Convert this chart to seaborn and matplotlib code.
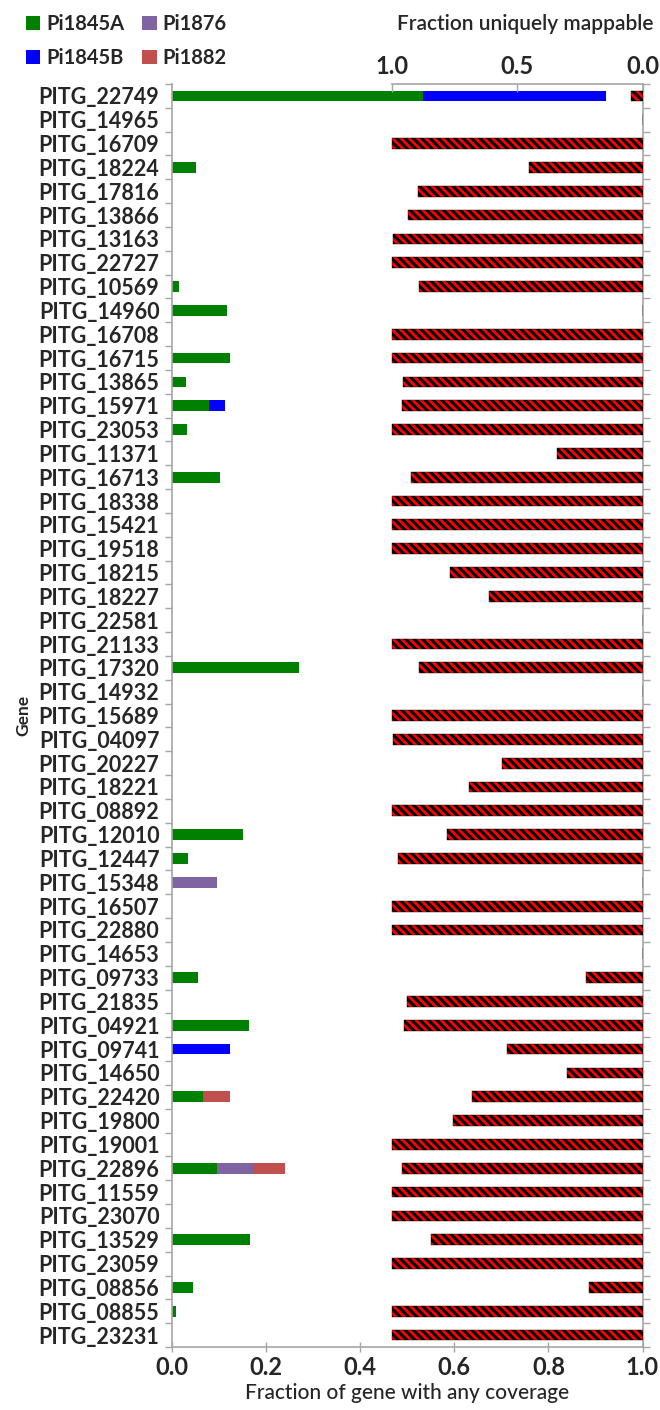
import numpy as np
import pandas as pd
import matplotlib
matplotlib.use("Agg")
import matplotlib.pyplot as plt
from matplotlib.patches import Patch
from matplotlib.ticker import FixedLocator
import seaborn as sns

genes = ["PITG_22749", "PITG_14965", "PITG_16709", "PITG_18224", "PITG_17816", "PITG_13866",
         "PITG_13163", "PITG_22727", "PITG_10569", "PITG_14960", "PITG_16708", "PITG_16715",
         "PITG_13865", "PITG_15971", "PITG_23053", "PITG_11371", "PITG_16713", "PITG_18338",
         "PITG_15421", "PITG_19518", "PITG_18215", "PITG_18227", "PITG_22581", "PITG_21133",
         "PITG_17320", "PITG_14932", "PITG_15689", "PITG_04097", "PITG_20227", "PITG_18221",
         "PITG_08892", "PITG_12010", "PITG_12447", "PITG_15348", "PITG_16507", "PITG_22880",
         "PITG_14653", "PITG_09733", "PITG_21835", "PITG_04921", "PITG_09741", "PITG_14650",
         "PITG_22420", "PITG_19800", "PITG_19001", "PITG_22896", "PITG_11559", "PITG_23070",
         "PITG_13529", "PITG_23059", "PITG_08856", "PITG_08855", "PITG_23231"]

pi1845a = [0.534, 0, 0, 0.052, 0, 0, 0, 0, 0.015, 0.116, 0, 0.124, 0.030, 0.078, 0.032, 0, 0.101, 0,
           0, 0, 0, 0, 0, 0, 0.269, 0, 0, 0, 0, 0, 0, 0.150, 0.035, 0, 0, 0,
           0, 0.056, 0, 0.163, 0, 0, 0.066, 0, 0, 0.096, 0, 0, 0.165, 0, 0.045, 0.008, 0]
pi1845b = [0.388, 0, 0, 0, 0, 0, 0, 0, 0, 0, 0, 0, 0, 0.034, 0, 0, 0, 0,
           0, 0, 0, 0, 0, 0, 0, 0, 0, 0, 0, 0, 0, 0, 0, 0, 0, 0,
           0, 0, 0, 0, 0.123, 0, 0, 0, 0, 0, 0, 0, 0, 0, 0, 0, 0]
pi1876 = [0, 0, 0, 0, 0, 0, 0, 0, 0, 0, 0, 0, 0, 0, 0, 0, 0, 0,
          0, 0, 0, 0, 0, 0, 0, 0, 0, 0, 0, 0, 0, 0, 0, 0.096, 0, 0,
          0, 0, 0, 0, 0, 0, 0, 0, 0, 0.076, 0, 0, 0, 0, 0, 0, 0]
pi1882 = [0, 0, 0, 0, 0, 0, 0, 0, 0, 0, 0, 0, 0, 0, 0, 0, 0, 0,
          0, 0, 0, 0, 0, 0, 0, 0, 0, 0, 0, 0, 0, 0, 0, 0, 0, 0,
          0, 0, 0, 0, 0, 0, 0.057, 0, 0, 0.068, 0, 0, 0, 0, 0, 0, 0]
mappable = [0.047, 0, 1.0, 0.455, 0.896, 0.936, 0.996, 1.0, 0.891, 0, 1.0, 1.0, 0.956, 0.961, 1.0, 0.340, 0.924, 1.0,
            1.0, 1.0, 0.770, 0.611, 0, 1.0, 0.894, 0, 1.0, 0.996, 0.559, 0.691, 1.0, 0.781, 0.976, 0, 1.0, 1.0,
            0, 0.224, 0.940, 0.951, 0.540, 0.300, 0.681, 0.756, 1.0, 0.960, 1.0, 1.0, 0.846, 1.0, 0.215, 1.0, 1.0]

series_names = ["Pi1845A", "Pi1845B", "Pi1876", "Pi1882"]
series_colors = ["#008000", "#0000FF", "#8064A2", "#C0504D"]

df = pd.DataFrame({"gene": genes, "Pi1845A": pi1845a, "Pi1845B": pi1845b,
                   "Pi1876": pi1876, "Pi1882": pi1882, "mappable": mappable})

sns.set_theme(style="white")
plt.rcParams["font.family"] = ["Lato", "DejaVu Sans"]
plt.rcParams["hatch.linewidth"] = 2.2

fig = plt.figure(figsize=(6.6, 14.1), dpi=100)
ax = fig.add_axes([172 / 660, 1 - 1347 / 1410, 470.5 / 660, (1347 - 84) / 1410])
ax2 = ax.twiny()

# uniquely mappable fraction (top, reversed axis)
sns.barplot(data=df, x="mappable", y="gene", order=genes, ax=ax2, orient="h",
            color="#FF0000", saturation=1, width=0.45, errorbar=None,
            hatch="\\\\\\\\", edgecolor="black", linewidth=0.3)

# stacked coverage bars (draw cumulative totals back to front)
cum = np.zeros(len(genes))
cums = []
for name in series_names:
    cum = cum + df[name].to_numpy()
    cums.append(np.where(df[name].to_numpy() > 0, cum, 0.0))
for name, color, c in reversed(list(zip(series_names, series_colors, cums))):
    layer = pd.DataFrame({"gene": genes, "value": c})
    sns.barplot(data=layer, x="value", y="gene", order=genes, ax=ax, orient="h",
                color=color, saturation=1, width=0.45, errorbar=None, linewidth=0)

n = len(genes)
ax.set_xlim(0, 1)
ax.set_ylim(n - 0.5, -0.5)
ax2.set_xlim(470.5 / 250.5, 0)

spine_col = "#A6A6A6"
for s in ["left", "right", "bottom"]:
    ax.spines[s].set_visible(True)
    ax.spines[s].set_color(spine_col)
    ax.spines[s].set_linewidth(1.2)
ax.spines["top"].set_visible(False)
for s in ["left", "right", "bottom"]:
    ax2.spines[s].set_visible(False)
ax2.spines["top"].set_visible(True)
ax2.spines["top"].set_color(spine_col)
ax2.spines["top"].set_linewidth(1.2)
ax2.spines["top"].set_bounds(0, 1)

# bottom axis
ax.set_xticks([0, 0.2, 0.4, 0.6, 0.8, 1.0])
ax.set_xticklabels(["0.0", "0.2", "0.4", "0.6", "0.8", "1.0"], fontsize=17, fontweight="bold")
ax.tick_params(axis="x", which="major", bottom=True, direction="inout", length=7,
               color=spine_col, width=1.0, pad=3)
ax.set_xlabel("Fraction of gene with any coverage", fontsize=15, fontweight="medium", labelpad=3)

# y axis
ax.set_yticks(range(n))
ax.set_yticklabels(genes, fontsize=15.5, fontweight="bold")
ax.yaxis.set_minor_locator(FixedLocator(np.arange(-0.5, n, 1.0)))
ax.tick_params(axis="y", which="major", length=0, pad=9)
ax.tick_params(axis="y", which="minor", left=True, right=True, direction="out",
               length=5, color=spine_col, width=1.0)
ax.set_ylabel("Gene", fontsize=12.5, fontweight="bold", labelpad=5)

# top axis
ax2.set_xticks([1.0, 0.5, 0.0])
ax2.set_xticklabels(["1.0", "0.5", "0.0"], fontsize=17, fontweight="bold")
ax2.tick_params(axis="x", which="major", top=True, direction="in", length=6,
                color=spine_col, width=1.0, pad=4)
ax2.set_xlabel("Fraction uniquely mappable", fontsize=15, fontweight="semibold", labelpad=8)
ax2.xaxis.set_label_position("top")
ax2.xaxis.set_label_coords((525 - 172) / 470.5, 1 + (84 - 30) / 1263)

handles = [Patch(facecolor=c, edgecolor="none", label=nm) for nm, c in zip(series_names, series_colors)]
fig.legend(handles=handles, loc="upper left", bbox_to_anchor=(0.012, 1.003), ncol=2,
           frameon=False, handlelength=0.7, handleheight=0.7, handletextpad=0.3,
           columnspacing=0.9, labelspacing=0.7, prop={"size": 14.5, "weight": "bold"})

fig.savefig("out.png", dpi=100)
